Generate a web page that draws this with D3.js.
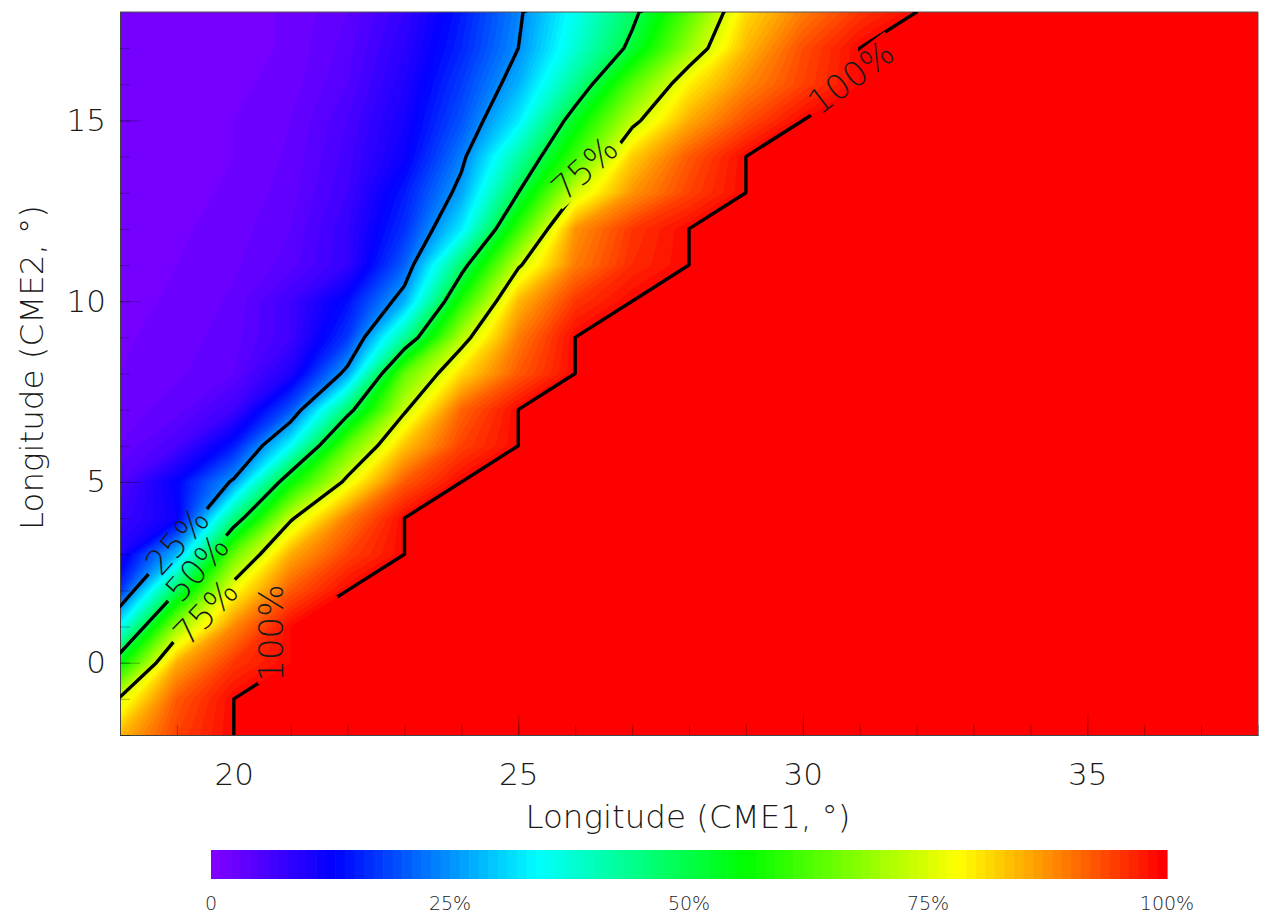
<!DOCTYPE html>
<html>
<head>
<meta charset="utf-8">
<script src="https://cdn.jsdelivr.net/npm/d3@7"></script>
<style>
  body { margin: 0; background: #fff; }
  svg { display: block; }
  text { font-family: "DejaVu Sans", sans-serif; font-weight: 200; fill: #1a1a1a; }
</style>
</head>
<body>
<svg id="chart"></svg>
<script>
// grid columns: longitude of CME1 (deg)
const lonCME1 = [18, 19, 20, 21, 22, 23, 24, 25, 26, 27, 28, 29, 30, 31, 32, 33, 34, 35, 36, 37, 38];
// grid rows, listed top to bottom: longitude of CME2 (deg)
const lonCME2 = [18, 17, 16, 15, 14, 13, 12, 11, 10, 9, 8, 7, 6, 5, 4, 3, 2, 1, 0, -1, -2];

// fraction (0..1), one row per lonCME2, one column per lonCME1
const fraction = [
  [.01, .012, .015, .022, .04, .08, .15, .24, .36, .48, .64, .82, .90, .96, 1, 1, 1, 1, 1, 1, 1],
  [.01, .012, .015, .022, .045, .09, .16, .25, .38, .52, .70, .85, .94, 1, 1, 1, 1, 1, 1, 1, 1],
  [.01, .013, .017, .025, .05, .10, .18, .28, .44, .64, .80, .89, .95, 1, 1, 1, 1, 1, 1, 1, 1],
  [.012, .015, .02, .03, .06, .11, .20, .33, .54, .73, .86, .94, 1, 1, 1, 1, 1, 1, 1, 1, 1],
  [.012, .015, .02, .032, .065, .12, .235, .42, .62, .83, .93, 1, 1, 1, 1, 1, 1, 1, 1, 1, 1],
  [.013, .016, .022, .035, .07, .15, .27, .50, .75, .88, .95, 1, 1, 1, 1, 1, 1, 1, 1, 1, 1],
  [.014, .018, .025, .04, .08, .17, .33, .61, .88, .96, 1, 1, 1, 1, 1, 1, 1, 1, 1, 1, 1],
  [.015, .02, .028, .045, .08, .21, .47, .74, .90, .97, 1, 1, 1, 1, 1, 1, 1, 1, 1, 1, 1],
  [.016, .022, .032, .07, .14, .28, .59, .85, .96, 1, 1, 1, 1, 1, 1, 1, 1, 1, 1, 1, 1],
  [.018, .025, .035, .07, .175, .43, .72, .90, 1, 1, 1, 1, 1, 1, 1, 1, 1, 1, 1, 1, 1],
  [.02, .028, .04, .10, .27, .65, .82, .93, 1, 1, 1, 1, 1, 1, 1, 1, 1, 1, 1, 1, 1],
  [.025, .035, .07, .20, .47, .74, .92, 1, 1, 1, 1, 1, 1, 1, 1, 1, 1, 1, 1, 1, 1],
  [.03, .06, .15, .35, .65, .84, .95, 1, 1, 1, 1, 1, 1, 1, 1, 1, 1, 1, 1, 1, 1],
  [.05, .13, .26, .56, .77, .93, 1, 1, 1, 1, 1, 1, 1, 1, 1, 1, 1, 1, 1, 1, 1],
  [.07, .12, .45, .74, .90, 1, 1, 1, 1, 1, 1, 1, 1, 1, 1, 1, 1, 1, 1, 1, 1],
  [.10, .285, .655, .86, .95, 1, 1, 1, 1, 1, 1, 1, 1, 1, 1, 1, 1, 1, 1, 1, 1],
  [.17, .495, .785, .93, 1, 1, 1, 1, 1, 1, 1, 1, 1, 1, 1, 1, 1, 1, 1, 1, 1],
  [.35, .70, .89, 1, 1, 1, 1, 1, 1, 1, 1, 1, 1, 1, 1, 1, 1, 1, 1, 1, 1],
  [.555, .86, .96, 1, 1, 1, 1, 1, 1, 1, 1, 1, 1, 1, 1, 1, 1, 1, 1, 1, 1],
  [.76, .93, 1, 1, 1, 1, 1, 1, 1, 1, 1, 1, 1, 1, 1, 1, 1, 1, 1, 1, 1],
  [.85, .95, 1, 1, 1, 1, 1, 1, 1, 1, 1, 1, 1, 1, 1, 1, 1, 1, 1, 1, 1]
];

const lineLevels = [0.25, 0.5, 0.75, 1];
const xTicks = [20, 25, 30, 35];
const yTicks = [0, 5, 10, 15];
const barTicks = [0, 0.25, 0.5, 0.75, 1];
const barTickLabels = ["0", "25%", "50%", "75%", "100%"];

// labels sitting in gaps of the contour lines (data coords);
// gap = box cut out of the lines, in the label's own rotated frame
const lineLabels = [
  { text: "25%", x: 19.0, y: 3.37, angle: -48 },
  { text: "50%", x: 19.35, y: 2.62, angle: -48 },
  { text: "75%", x: 19.5, y: 1.4, angle: -46 },
  { text: "100%", x: 20.65, y: 0.82, angle: -90, gap: [-51, -13, 88, 80] },
  { text: "75%", x: 26.16, y: 13.68, angle: -42 },
  { text: "100%", x: 30.84, y: 16.2, angle: -37 }
];

const width = 1265, height = 920;
const plotL = 120, plotR = 1258, plotT = 12, plotB = 735;

const svg = d3.select("#chart").attr("width", width).attr("height", height);

const x = d3.scaleLinear().domain([18, 38]).range([plotL, plotR]);
const y = d3.scaleLinear().domain([-2, 18]).range([plotB, plotT]);

// rainbow colour table
const color = d3.scaleLinear()
  .domain([0, 0.125, 0.34, 0.56, 0.785, 1])
  .range(["#8000ff", "#0000ff", "#00ffff", "#00ff00", "#ffff00", "#ff0000"]);

const nx = lonCME1.length, ny = lonCME2.length;
const values = fraction.flat();

// d3.contours puts sample i at i + 0.5
const gx = d3.scaleLinear().domain([0.5, nx - 0.5]).range([x(lonCME1[0]), x(lonCME1[nx - 1])]);
const gy = d3.scaleLinear().domain([0.5, ny - 0.5]).range([y(lonCME2[0]), y(lonCME2[ny - 1])]);
const path = d3.geoPath(d3.geoTransform({
  point(px, py) { this.stream.point(gx(px), gy(py)); }
}));

const defs = svg.append("defs");
defs.append("clipPath").attr("id", "plotClip")
  .append("rect").attr("x", plotL).attr("y", plotT)
  .attr("width", plotR - plotL).attr("height", plotB - plotT);

// filled bands
const fillLevels = d3.range(0, 101).map(i => i / 100);
const bands = d3.contours().size([nx, ny]).thresholds(fillLevels)(values);

svg.append("g").attr("clip-path", "url(#plotClip)")
  .selectAll("path").data(bands).join("path")
  .attr("d", path)
  .attr("fill", d => color(d.value));

// axes with inside ticks
svg.append("g").attr("transform", `translate(0,${plotB})`)
  .call(d3.axisBottom(x).tickValues(xTicks).tickSize(-20).tickSizeOuter(0).tickPadding(28));
svg.append("g").attr("transform", `translate(0,${plotB})`)
  .call(d3.axisBottom(x).ticks(20).tickSize(-10).tickSizeOuter(0).tickFormat(""));
svg.append("g").attr("transform", `translate(${plotL},0)`)
  .call(d3.axisLeft(y).tickValues(yTicks).tickSize(-20).tickSizeOuter(0).tickPadding(14));
svg.append("g").attr("transform", `translate(${plotL},0)`)
  .call(d3.axisLeft(y).ticks(20).tickSize(-10).tickSizeOuter(0).tickFormat(""));

svg.selectAll(".tick line").attr("stroke", "#000").attr("stroke-opacity", 0.3);
svg.selectAll(".domain").attr("stroke", "#444");
svg.selectAll(".tick text").attr("font-size", 31).attr("font-family", null).attr("fill", null);

// frame top / right
svg.append("path")
  .attr("d", `M${plotL},${plotT}H${plotR}V${plotB}`)
  .attr("fill", "none").attr("stroke", "#555");

// contour lines with gaps for the labels
const mask = defs.append("mask").attr("id", "labelGaps").attr("maskUnits", "userSpaceOnUse")
  .attr("x", 0).attr("y", 0).attr("width", width).attr("height", height);
mask.append("rect").attr("width", width).attr("height", height).attr("fill", "#fff");

const lines = d3.contours().size([nx, ny]).thresholds(lineLevels)(values);
svg.append("g").attr("clip-path", "url(#plotClip)")
  .append("g").attr("mask", "url(#labelGaps)")
  .selectAll("path").data(lines).join("path")
  .attr("d", path)
  .attr("fill", "none")
  .attr("stroke", "#000")
  .attr("stroke-width", 3.4)
  .attr("stroke-linejoin", "round");

const labelG = svg.append("g");
lineLabels.forEach(l => {
  const pos = `translate(${x(l.x)},${y(l.y)}) rotate(${l.angle})`;
  const t = labelG.append("text")
    .attr("transform", pos)
    .attr("text-anchor", "middle")
    .attr("dy", "0.36em")
    .attr("font-size", 34)
    .text(l.text);
  const w = t.node().getComputedTextLength() + 12;
  const g = l.gap || [-w / 2, -16, w, 32];
  mask.append("rect")
    .attr("x", g[0]).attr("y", g[1]).attr("width", g[2]).attr("height", g[3])
    .attr("transform", pos)
    .attr("fill", "#000");
});

// axis titles
svg.append("text")
  .attr("x", 688).attr("y", 828)
  .attr("text-anchor", "middle").attr("font-size", 32.5)
  .text("Longitude (CME1, °)");
svg.append("text")
  .attr("transform", `translate(43,${(plotT + plotB) / 2 - 6}) rotate(-90)`)
  .attr("text-anchor", "middle").attr("font-size", 32.5)
  .text("Longitude (CME2, °)");

// colour bar
const bx = d3.scaleLinear().domain([0, 1]).range([211, 1167]);
const nBar = 100;
svg.append("g").selectAll("rect").data(d3.range(nBar)).join("rect")
  .attr("x", i => bx(i / nBar))
  .attr("y", 850)
  .attr("width", i => bx((i + 1) / nBar) - bx(i / nBar) + 0.6)
  .attr("height", 29)
  .attr("fill", i => color(i / (nBar - 1)));

svg.append("g").selectAll("text").data(barTicks).join("text")
  .attr("x", d => bx(d)).attr("y", 910)
  .attr("text-anchor", "middle").attr("font-size", 19)
  .attr("fill", "#222")
  .text((d, i) => barTickLabels[i]);
</script>
</body>
</html>
